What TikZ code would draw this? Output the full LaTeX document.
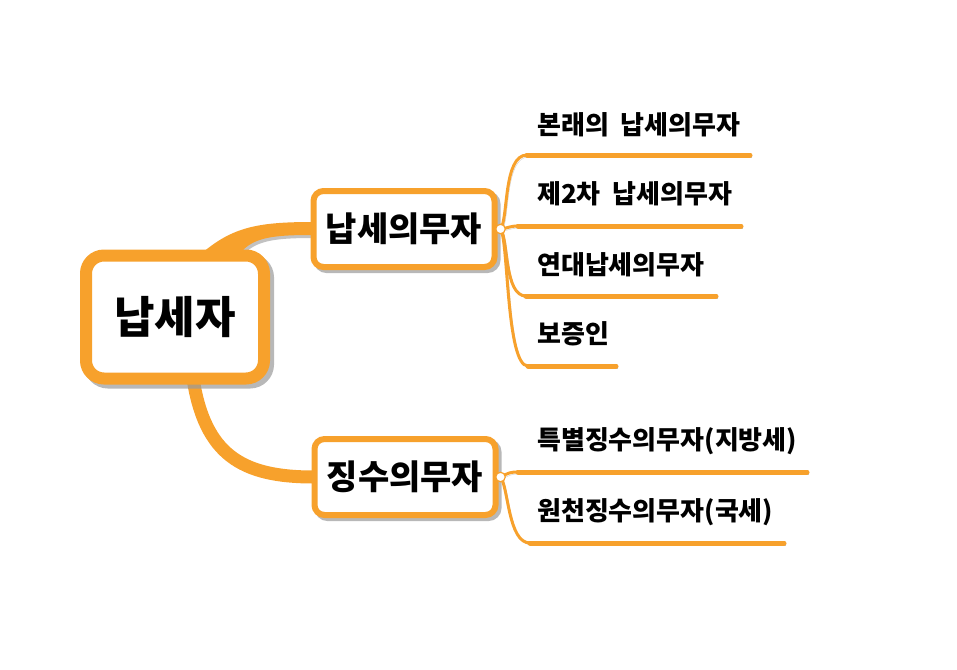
\documentclass[tikz,border=0pt]{standalone}
\usepackage{fontspec}
\newfontfamily\kr{Noto Sans CJK KR}
\usetikzlibrary{calc,backgrounds}
\definecolor{org}{HTML}{F7A12C}
\definecolor{shd}{HTML}{9A9A9A}
\begin{document}
\begin{tikzpicture}[x=1pt,y=-1pt,
  rootbox/.style={draw=org, line width=12pt, fill=white, rounded corners=18pt,
    minimum width=178pt, minimum height=123pt, inner sep=0pt,
    font=\kr\bfseries\fontsize{44}{48}\selectfont,
    preaction={draw=shd, opacity=0.7, transform canvas={shift={(4pt,-4pt)}}}},
  midbox/.style={draw=org, line width=6pt, fill=white, rounded corners=10pt,
    minimum width=181pt, minimum height=76pt, inner sep=0pt,
    font=\kr\bfseries\fontsize{34}{36}\selectfont,
    preaction={draw=shd, opacity=0.7, transform canvas={shift={(3pt,-3pt)}}}},
  leaf/.style={anchor=west, inner sep=0pt, font=\kr\bfseries\fontsize{26}{28}\selectfont},
  dot/.style={circle, draw=org, fill=white, line width=1.2pt, minimum size=9.5pt, inner sep=0pt},
  br/.style={draw=org, line width=3pt, line cap=round,
    preaction={draw=shd, opacity=0.5, transform canvas={shift={(1.5pt,-2pt)}}}},
  ul/.style={draw=org, line width=5pt, line cap=round,
    preaction={draw=shd, opacity=0.6, transform canvas={shift={(1.5pt,-2.5pt)}}}},
  trunk/.style={draw=org, line width=13pt,
    preaction={draw=shd, opacity=0.6, transform canvas={shift={(2pt,-3pt)}}}},
  flare/.style={fill=org, draw=none,
    preaction={fill=shd, opacity=0.6, transform canvas={shift={(2pt,-3pt)}}}}
]
\useasboundingbox (0,0) rectangle (957,669);

% nodes
\node[rootbox] (root) at (175,317) {납세자};
\node[midbox] (n1) at (404,229) {납세의무자};
\node[midbox] (n2) at (405,477) {징수의무자};

\node[leaf] (t1) at (537,125) {본래의\hspace{0.45em}납세의무자};
\node[leaf] (t2) at (537,194) {제2차\hspace{0.45em}납세의무자};
\node[leaf] (t3) at (537,265) {연대납세의무자};
\node[leaf] (t4) at (537,334) {보증인};
\node[leaf] (t5) at (537,441) {특별징수의무자(지방세)};
\node[leaf] (t6) at (537,512) {원천징수의무자(국세)};

\coordinate (e1) at (750,155);
\coordinate (e2) at (741,226);
\coordinate (e3) at (716,296);
\coordinate (e4) at (616,366);
\coordinate (e5) at (807,472);
\coordinate (e6) at (784,543);

\begin{scope}[on background layer]
  % root -> n1 (flared)
  \path[flare] ($(root.north)+(22,8)$) .. controls ($(root.north)+(55,-22)$) and ($(n1.west)+(-55,-7)$) .. ($(n1.west)+(2,-7)$)
     -- ($(n1.west)+(2,6)$) .. controls ($(n1.west)+(-40,6)$) and ($(root.north)+(75,-12)$) .. ($(root.north)+(62,8)$) -- cycle;
  % root -> n2
  \draw[trunk] ($(root.south)+(18,-6)$) .. controls ($(root.south)+(30,70)$) and ($(n2.west)+(-70,0)$) .. ($(n2.west)+(2,0)$);
\end{scope}

% branches of n1
\coordinate (d1) at ($(n1.east)+(3,0)$);
\coordinate (s1) at (527,155);
\coordinate (s2) at (518,226);
\coordinate (s3) at (526,296);
\coordinate (s4) at (528,366);
\draw[br] (d1) .. controls +(8,-10) and +(-24,0) .. (s1);
\draw[br] (d1) .. controls +(8,-1) and +(-8,0) .. (s2);
\draw[br] (d1) .. controls +(8,10) and +(-22,0) .. (s3);
\draw[br] (d1) .. controls +(8,10) and +(-22,0) .. (s4);
\draw[ul] (s1) -- (e1);
\draw[ul] (s2) -- (e2);
\draw[ul] (s3) -- (e3);
\draw[ul] (s4) -- (e4);
\node[dot] at (d1) {};

% branches of n2
\coordinate (d2) at ($(n2.east)+(2,0)$);
\coordinate (s5) at (518,472);
\coordinate (s6) at (530,543);
\draw[br] (d2) .. controls +(8,-4) and +(-8,0) .. (s5);
\draw[br] (d2) .. controls +(8,10) and +(-22,0) .. (s6);
\draw[ul] (s5) -- (e5);
\draw[ul] (s6) -- (e6);
\node[dot] at (d2) {};
\end{tikzpicture}
\end{document}
